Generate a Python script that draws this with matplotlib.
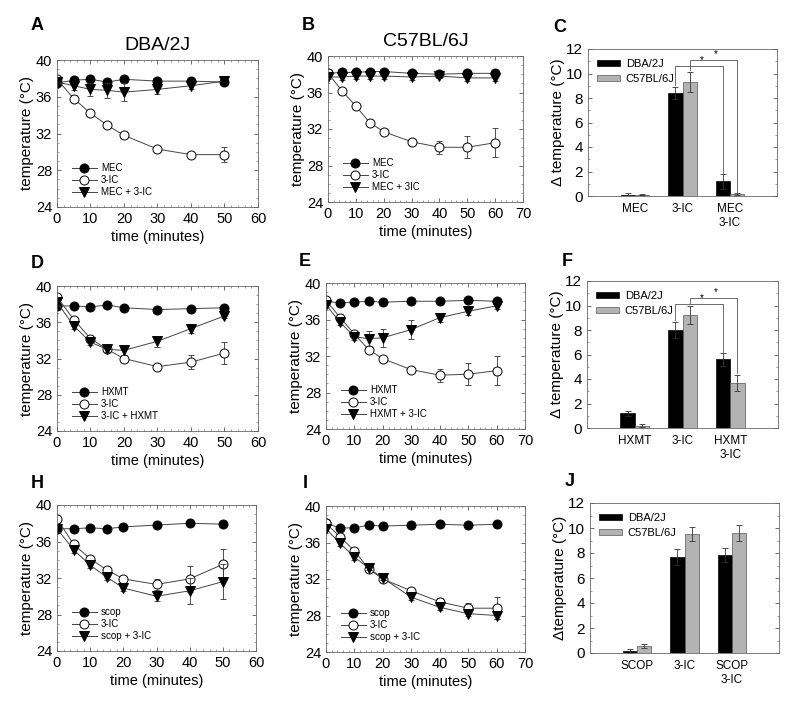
import matplotlib
matplotlib.use("Agg")
import matplotlib.pyplot as plt
from matplotlib import ticker
import numpy as np

plt.rcParams['font.family'] = ['Liberation Sans', 'DejaVu Sans']

# ---------------- Data ----------------
time_short = [0, 5, 10, 15, 20, 30, 40, 50]
time_long = [0, 5, 10, 15, 20, 30, 40, 50, 60]

# A: DBA/2J, MEC
A_mec = [37.5, 37.8, 37.9, 37.6, 37.9, 37.7, 37.7, 37.6]
A_mec_err = [0.2, 0.2, 0.2, 0.2, 0.2, 0.2, 0.3, 0.2]
A_3ic = [37.9, 35.8, 34.2, 32.9, 31.8, 30.3, 29.7, 29.7]
A_3ic_err = [0.2, 0.4, 0.3, 0.3, 0.3, 0.3, 0.3, 0.8]
A_mec3ic = [37.6, 37.2, 36.8, 36.7, 36.5, 36.8, 37.2, 37.7]
A_mec3ic_err = [0.2, 0.5, 0.7, 0.8, 1.0, 0.5, 0.4, 0.2]

# B: C57BL/6J, MEC
B_mec = [38.1, 38.2, 38.2, 38.3, 38.3, 38.1, 38.0, 38.1, 38.1]
B_mec_err = [0.2, 0.3, 0.3, 0.3, 0.3, 0.3, 0.2, 0.3, 0.3]
B_3ic = [38.1, 36.2, 34.5, 32.7, 31.7, 30.6, 30.0, 30.0, 30.5]
B_3ic_err = [0.2, 0.2, 0.3, 0.3, 0.3, 0.3, 0.7, 1.2, 1.6]
B_mec3ic = [37.7, 37.7, 37.8, 37.8, 37.8, 37.7, 37.8, 37.6, 37.6]
B_mec3ic_err = [0.2, 0.3, 0.3, 0.3, 0.3, 0.3, 0.2, 0.3, 0.3]

# C: delta temperature, MEC
C_cats = ["MEC", "3-IC", "MEC\n3-IC"]
C_dba = [0.1, 8.4, 1.2]
C_dba_err = [0.15, 0.5, 0.6]
C_c57 = [0.1, 9.3, 0.15]
C_c57_err = [0.05, 0.8, 0.1]
C_bracket_levels = [10.6, 11.1]

# D: DBA/2J, HXMT
D_hxmt = [37.8, 37.8, 37.7, 37.9, 37.6, 37.4, 37.5, 37.6]
D_hxmt_err = [0.2, 0.2, 0.2, 0.2, 0.2, 0.2, 0.2, 0.2]
D_3ic = [38.8, 36.3, 34.2, 33.0, 32.0, 31.1, 31.6, 32.6]
D_3ic_err = [0.2, 0.3, 0.3, 0.3, 0.3, 0.2, 0.8, 1.2]
D_3ichx = [38.2, 35.6, 33.8, 33.0, 32.9, 33.9, 35.3, 36.7]
D_3ichx_err = [0.2, 0.3, 0.3, 0.3, 0.5, 0.6, 0.5, 0.2]

# E: C57BL/6J, HXMT
E_hxmt = [38.0, 37.8, 37.9, 38.0, 37.9, 38.0, 38.0, 38.1, 38.0]
E_hxmt_err = [0.2, 0.2, 0.2, 0.2, 0.2, 0.2, 0.2, 0.2, 0.2]
E_3ic = [38.1, 36.2, 34.4, 32.7, 31.7, 30.5, 29.9, 30.0, 30.4]
E_3ic_err = [0.2, 0.2, 0.3, 0.3, 0.3, 0.3, 0.7, 1.2, 1.6]
E_hx3ic = [37.6, 35.7, 34.1, 33.9, 34.0, 34.9, 36.2, 36.9, 37.5]
E_hx3ic_err = [0.2, 0.3, 0.4, 0.8, 1.0, 1.0, 0.5, 0.4, 0.3]

# F: delta temperature, HXMT
F_cats = ["HXMT", "3-IC", "HXMT\n3-IC"]
F_dba = [1.2, 8.0, 5.6]
F_dba_err = [0.2, 0.65, 0.5]
F_c57 = [0.2, 9.2, 3.7]
F_c57_err = [0.1, 0.75, 0.65]
F_bracket_levels = [10.15, 10.6]

# H: DBA/2J, scopolamine
H_scop = [37.4, 37.4, 37.5, 37.4, 37.6, 37.8, 38.0, 37.9]
H_scop_err = [0.2, 0.2, 0.2, 0.2, 0.2, 0.2, 0.2, 0.2]
H_3ic = [38.5, 35.7, 34.1, 32.9, 31.9, 31.3, 31.9, 33.5]
H_3ic_err = [0.2, 0.3, 0.3, 0.3, 0.3, 0.6, 1.4, 1.7]
H_scop3ic = [37.4, 35.1, 33.4, 32.1, 30.9, 30.0, 30.6, 31.6]
H_scop3ic_err = [0.2, 0.4, 0.3, 0.3, 0.3, 0.5, 1.4, 1.9]

# I: C57BL/6J, scopolamine
I_scop = [38.1, 37.6, 37.6, 37.9, 37.8, 37.9, 38.0, 37.9, 38.0]
I_scop_err = [0.2, 0.2, 0.2, 0.2, 0.2, 0.2, 0.2, 0.2, 0.2]
I_3ic = [38.1, 36.6, 35.1, 33.1, 32.0, 30.7, 29.5, 28.8, 28.8]
I_3ic_err = [0.2, 0.3, 0.3, 0.3, 0.3, 0.3, 0.4, 0.6, 1.2]
I_scop3ic = [37.5, 35.9, 34.4, 33.2, 32.1, 30.0, 28.9, 28.2, 28.0]
I_scop3ic_err = [0.2, 0.3, 0.3, 0.2, 0.2, 0.3, 0.3, 0.3, 0.4]

# J: delta temperature, scopolamine
J_cats = ["SCOP", "3-IC", "SCOP\n3-IC"]
J_dba = [0.15, 7.7, 7.85]
J_dba_err = [0.15, 0.65, 0.55]
J_c57 = [0.55, 9.55, 9.6]
J_c57_err = [0.15, 0.55, 0.65]


W, H = 800, 702
fig = plt.figure(figsize=(8, 7.02), dpi=100)


def px_axes(left, top, right, bottom):
    """ Axes placed from pixel edges """
    return fig.add_axes([left / W, 1 - bottom / H, (right - left) / W, (bottom - top) / H])


def style_ticks(ax):
    ax.tick_params(which="both", direction="in", top=True, right=True, labelsize=10.5)
    ax.tick_params(which="major", length=3, width=0.6, color="#555555")
    ax.tick_params(which="minor", length=1.5, width=0.5, color="#777777")
    for s in ax.spines.values():
        s.set_linewidth(0.6)
        s.set_color("#666666")


# Time course panel
def line_panel(ax, time, series, labels, xmax):
    markers = [("o", "black"), ("o", "white"), ("v", "black")]
    for (y, err), label, (m, fc) in zip(series, labels, markers):
        ax.errorbar(time, y, yerr=err, fmt="none", ecolor="#333333", elinewidth=0.6,
                    capsize=2, capthick=0.6)
        ax.plot(time, y, color="#444444", lw=0.7, marker=m, ms=6.5, mfc=fc, mec="black",
                mew=0.7, label=label)
    ax.set_xlim(0, xmax)
    ax.set_ylim(24, 40)
    ax.xaxis.set_major_locator(ticker.MultipleLocator(10))
    ax.xaxis.set_minor_locator(ticker.MultipleLocator(2))
    ax.yaxis.set_major_locator(ticker.MultipleLocator(4))
    ax.yaxis.set_minor_locator(ticker.MultipleLocator(1))
    style_ticks(ax)
    ax.set_ylabel("temperature (°C)", fontsize=11, labelpad=1)
    ax.set_xlabel("time (minutes)", fontsize=10.5, labelpad=3)
    ax.legend(loc="lower left", fontsize=7, frameon=False, handlelength=2.6,
              labelspacing=0.2, borderaxespad=0.3, handletextpad=0.4,
              bbox_to_anchor=(0.04, 0.02))


# Delta temperature bar panel
def bar_panel(ax, cats, dba, dba_err, c57, c57_err, ylabel, brackets=None):
    x = np.arange(1, len(cats) + 1)
    w = 0.3
    ax.bar(x - w / 2, dba, w, yerr=dba_err, color="black", edgecolor="black", lw=0.5,
           error_kw=dict(elinewidth=0.6, capsize=2, capthick=0.6, ecolor="#333333"),
           label="DBA/2J")
    ax.bar(x + w / 2, c57, w, yerr=c57_err, color="#b3b3b3", edgecolor="#555555", lw=0.5,
           error_kw=dict(elinewidth=0.6, capsize=2, capthick=0.6, ecolor="#333333"),
           label="C57BL/6J")
    ax.set_xlim(0, 4)
    ax.set_ylim(0, 12)
    ax.set_xticks(x)
    ax.set_xticklabels(cats, fontsize=8.5)
    ax.yaxis.set_major_locator(ticker.MultipleLocator(2))
    ax.yaxis.set_minor_locator(ticker.MultipleLocator(1))
    style_ticks(ax)
    ax.tick_params(axis="x", top=False, length=0, labelsize=8.5, pad=5)
    ax.tick_params(axis="y", labelsize=11)
    ax.set_ylabel(ylabel, fontsize=11, labelpad=1)
    ax.legend(loc="upper left", fontsize=8, frameon=False, handlelength=2.1,
              handleheight=0.45, labelspacing=0.45, borderaxespad=0.4,
              handletextpad=0.5, bbox_to_anchor=(0.0, 0.99))

    if brackets is not None:
        # Significance brackets from 3-IC to combination group
        starts = [(x[1] - w / 2, dba[1] + dba_err[1], x[2] - w / 2, dba[2] + dba_err[2]),
                  (x[1] + w / 2, c57[1] + c57_err[1], x[2] + w / 2, c57[2] + c57_err[2])]
        for (x0, y0, x1, y1), lvl in zip(starts, brackets):
            ax.plot([x0, x0, x1, x1], [y0 + 0.2, lvl, lvl, y1 + 0.1], color="#555555", lw=0.6)
            ax.text((x0 + x1) / 2 + 0.05, lvl + 0.05, "*", ha="center", va="bottom", fontsize=7)


# Row 1
axA = px_axes(57, 60, 258, 207)
line_panel(axA, time_short, [(A_mec, A_mec_err), (A_3ic, A_3ic_err), (A_mec3ic, A_mec3ic_err)],
           ["MEC", "3-IC", "MEC + 3-IC"], 60)
axA.set_title("DBA/2J", fontsize=14, pad=7)

axB = px_axes(328, 56, 523, 202)
line_panel(axB, time_long, [(B_mec, B_mec_err), (B_3ic, B_3ic_err), (B_mec3ic, B_mec3ic_err)],
           ["MEC", "3-IC", "MEC + 3IC"], 70)
axB.set_title("C57BL/6J", fontsize=14, pad=7)

axC = px_axes(588, 49, 777, 196)
bar_panel(axC, C_cats, C_dba, C_dba_err, C_c57, C_c57_err, "Δ temperature (°C)", C_bracket_levels)

# Row 2
axD = px_axes(57, 286, 258, 431)
line_panel(axD, time_short, [(D_hxmt, D_hxmt_err), (D_3ic, D_3ic_err), (D_3ichx, D_3ichx_err)],
           ["HXMT", "3-IC", "3-IC + HXMT"], 60)

axE = px_axes(326, 283, 525, 429)
line_panel(axE, time_long, [(E_hxmt, E_hxmt_err), (E_3ic, E_3ic_err), (E_hx3ic, E_hx3ic_err)],
           ["HXMT", "3-IC", "HXMT + 3-IC"], 70)

axF = px_axes(587, 281, 778, 428)
bar_panel(axF, F_cats, F_dba, F_dba_err, F_c57, F_c57_err, "Δ temperature (°C)", F_bracket_levels)

# Row 3
axH = px_axes(57, 505, 256, 651)
line_panel(axH, time_short, [(H_scop, H_scop_err), (H_3ic, H_3ic_err), (H_scop3ic, H_scop3ic_err)],
           ["scop", "3-IC", "scop + 3-IC"], 60)

axI = px_axes(326, 506, 525, 652)
line_panel(axI, time_long, [(I_scop, I_scop_err), (I_3ic, I_3ic_err), (I_scop3ic, I_scop3ic_err)],
           ["scop", "3-IC", "scop + 3-IC"], 70)

axJ = px_axes(590, 503, 779, 653)
bar_panel(axJ, J_cats, J_dba, J_dba_err, J_c57, J_c57_err, "Δtemperature (°C)")

# Panel letters
letters = [("A", 37, 26), ("B", 308, 26), ("C", 560, 27),
           ("D", 37, 263), ("E", 305, 262), ("F", 567, 262),
           ("H", 37, 484), ("I", 305, 484), ("J", 570, 482)]
for lab, lx, ly in letters:
    fig.text(lx / W, 1 - ly / H, lab, fontsize=13, fontweight="bold", ha="center", va="center")

fig.savefig("out.png", dpi=100)
